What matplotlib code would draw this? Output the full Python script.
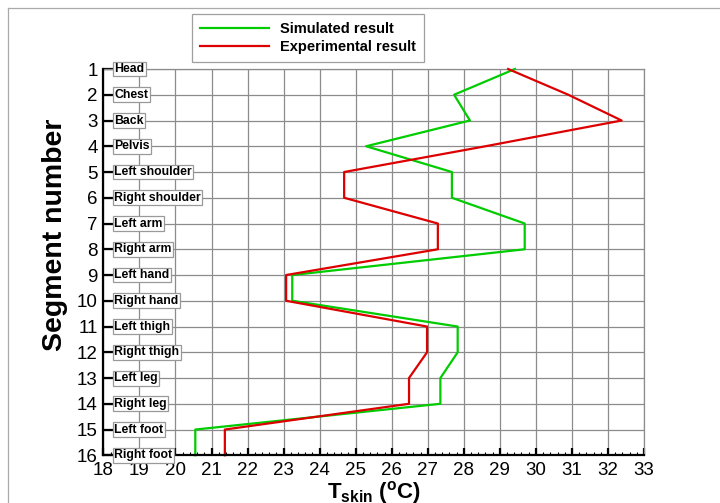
import numpy as np
import matplotlib
matplotlib.use('Agg')
import matplotlib.pyplot as plt
from matplotlib.lines import Line2D
from matplotlib.ticker import MultipleLocator

plt.rcParams['font.family'] = ['Liberation Sans', 'DejaVu Sans']
plt.rcParams['mathtext.fontset'] = 'custom'
plt.rcParams['mathtext.rm'] = 'Liberation Sans'
plt.rcParams['mathtext.bf'] = 'Liberation Sans:bold'

segments = ["Head", "Chest", "Back", "Pelvis", "Left shoulder", "Right shoulder",
            "Left arm", "Right arm", "Left hand", "Right hand", "Left thigh",
            "Right thigh", "Left leg", "Right leg", "Left foot", "Right foot"]
seg_no = list(range(1, 17))
simulated = [29.42, 27.73, 28.17, 25.29, 27.67, 27.67, 29.69, 29.69,
             23.24, 23.24, 27.83, 27.83, 27.35, 27.35, 20.55, 20.55]
experimental = [29.23, 30.9, 32.38, 28.6, 24.68, 24.68, 27.28, 27.28,
                23.07, 23.07, 26.98, 26.98, 26.48, 26.48, 21.37, 21.37]
x_ticks = list(range(18, 34))

GREEN = '#00cc00'
RED = '#dd0000'
GRID = '#8c8c8c'

fig = plt.figure(figsize=(7.2, 5.03), dpi=100)
ax = fig.add_axes([103.4 / 720, 1 - 455.3 / 503, (644 - 103.4) / 720, (455.3 - 69) / 503])

ax.plot(simulated, seg_no, color=GREEN, lw=1.6, zorder=4, clip_on=False)
ax.plot(experimental, seg_no, color=RED, lw=1.6, zorder=5, clip_on=False)

ax.set_xlim(18, 33)
ax.set_ylim(16, 1)
ax.set_xticks(x_ticks)
ax.set_yticks(seg_no)
ax.xaxis.set_minor_locator(MultipleLocator(0.2))
ax.grid(True, which='major', color=GRID, lw=0.9, zorder=1)
ax.set_axisbelow(True)

for side in ['top', 'right']:
    ax.spines[side].set_color(GRID)
    ax.spines[side].set_linewidth(0.9)
for side in ['left', 'bottom']:
    ax.spines[side].set_linewidth(1.6)
    ax.spines[side].set_zorder(6)

ax.tick_params(axis='x', which='major', direction='in', length=5, width=1.6,
               labelsize=13.5, pad=5, top=False)
ax.tick_params(axis='x', which='minor', direction='in', length=2.5, width=0.8, top=False)
ax.tick_params(axis='y', which='major', direction='in', length=8, width=1.6,
               labelsize=13.5, pad=4, right=False)

# segment name boxes next to the y ticks
for name, s in zip(segments, seg_no):
    ax.annotate(name, xy=(18, s), xytext=(7.8, 0), textcoords='offset points',
                ha='left', va='center', fontsize=8.8, fontweight='bold', zorder=7,
                bbox=dict(boxstyle='square,pad=0.12', fc='white', ec='#999999', lw=0.9))

ax.set_ylabel('Segment number', fontsize=20.5, fontweight='bold')
ax.yaxis.set_label_coords(-0.066, 0.57)
ax.set_xlabel(r'$\mathbf{T}_{\mathbf{skin}}$ $\mathbf{(^{o}C)}$', fontsize=16,
              va='baseline')
ax.xaxis.set_label_coords(0.5, -(498 - 455.3) / 386.3)

handles = [Line2D([], [], color=GREEN, lw=1.6), Line2D([], [], color=RED, lw=1.6)]
leg = fig.legend(handles, ['Simulated result', 'Experimental result'],
                 loc='upper left', bbox_to_anchor=(192 / 720, 1 - 14 / 503),
                 frameon=True, fancybox=False, edgecolor='#888888',
                 prop={'size': 10.5, 'weight': 'bold'},
                 handlelength=4.7, handletextpad=0.8, labelspacing=0.3,
                 borderpad=0.55, borderaxespad=0)
leg.get_frame().set_linewidth(0.9)

# thin frame along the top and left of the figure
fig.add_artist(Line2D([8 / 720, 1], [1 - 8 / 503, 1 - 8 / 503], color='#aaaaaa', lw=0.9))
fig.add_artist(Line2D([8 / 720, 8 / 720], [0, 1 - 8 / 503], color='#aaaaaa', lw=0.9))

fig.savefig('out.png', dpi=100)
